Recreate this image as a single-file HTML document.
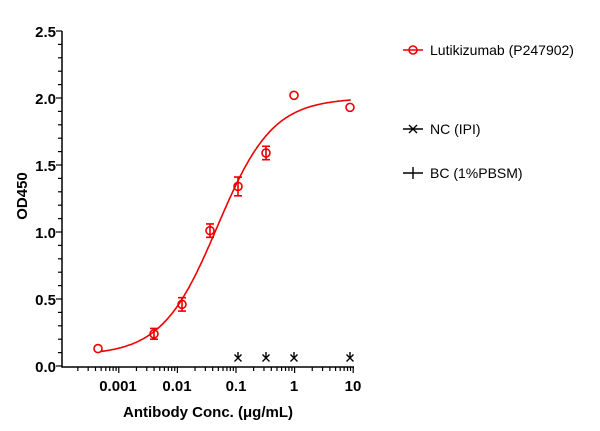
<!DOCTYPE html><html><head><style>body{margin:0;background:#fff}svg{display:block;font-family:"Liberation Sans",Arial,sans-serif}</style></head><body>
<svg id="s" width="600" height="431" viewBox="0 0 600 431">
<g stroke="#000" stroke-width="1.5" fill="none">
<path d="M62 31V367H354"/>
</g>
<g id="ticks" stroke="#000" stroke-width="1.2"></g>
<g font-weight="bold" font-size="15" text-anchor="end">
<text x="56" y="372">0.0</text><text x="56" y="305">0.5</text><text x="56" y="238">1.0</text><text x="56" y="171">1.5</text><text x="56" y="104">2.0</text><text x="56" y="37">2.5</text>
</g>
<g font-weight="bold" font-size="15" text-anchor="middle">
<text x="118" y="391">0.001</text><text x="177" y="391">0.01</text><text x="236" y="391">0.1</text><text x="294" y="391">1</text><text x="353" y="391">10</text>
<text x="208" y="417">Antibody Conc. (μg/mL)</text>
<text transform="translate(27 196) rotate(-90)">OD450</text>
</g>
<path id="curve" fill="none" stroke="#e00" stroke-width="1.6"/>
<g id="pts" stroke="#e00" stroke-width="1.6" fill="none"></g>
<g id="nc" stroke="#000" stroke-width="1.4"></g>
<g font-size="14">
<line x1="403" y1="50" x2="423" y2="50" stroke="#e00" stroke-width="1.5"/><circle cx="413" cy="50" r="4" fill="none" stroke="#e00" stroke-width="1.6"/>
<text x="430" y="55">Lutikizumab (P247902)</text>
<line x1="403" y1="129" x2="423" y2="129" stroke="#000" stroke-width="1.4"/><path d="M409 125l8 8M417 125l-8 8" stroke="#000" stroke-width="1.4"/>
<text x="430" y="134">NC (IPI)</text>
<line x1="403" y1="173" x2="423" y2="173" stroke="#000" stroke-width="1.4"/><line x1="413" y1="167" x2="413" y2="179" stroke="#000" stroke-width="1.4"/>
<text x="430" y="178">BC (1%PBSM)</text>
</g>
</svg>
<script>
var ns="http://www.w3.org/2000/svg";
function X(c){return 236+58.6*Math.log10(c/0.1)}
function Y(v){return 366-v*134}
function el(p,t,a){var e=document.createElementNS(ns,t);for(var k in a)e.setAttribute(k,a[k]);document.getElementById(p).appendChild(e);return e}
for(var i=0;i<=25;i++){var y=366-i*13.4;el("ticks","line",{x1:i%5?58:56,x2:62,y1:y,y2:y});}
for(var d=-4;d<=1;d++){for(var m=1;m<10;m++){var c=Math.pow(10,d)*m;var x=X(c);if(x<63||x>354)continue;el("ticks","line",{x1:x,x2:x,y1:367,y2:m==1?373:371});}}
var p="";for(var lx=Math.log10(0.0005);lx<=Math.log10(9.2);lx+=0.02){var c=Math.pow(10,lx);var v=0.08+(1.92)/(1+Math.pow(0.048/c,0.92));p+=(p?"L":"M")+X(c).toFixed(1)+" "+Y(v).toFixed(1);}
document.getElementById("curve").setAttribute("d",p);
var pts=[[98,0.13,0],[154,0.24,0.04],[182,0.46,0.05],[210,1.01,0.05],[238,1.34,0.07],[266,1.59,0.05],[294,2.02,0],[350,1.93,0]];
pts.forEach(function(q){var y=Y(q[1]);if(q[2]){var e=q[2]*134;el("pts","path",{d:"M"+q[0]+" "+(y-e)+"V"+(y+e)+"M"+(q[0]-4)+" "+(y-e)+"h8M"+(q[0]-4)+" "+(y+e)+"h8"});}el("pts","circle",{cx:q[0],cy:y,r:4});});
[238,266,294,350].forEach(function(x){var y=Y(0.06);el("nc","path",{d:"M"+(x-3.5)+" "+(y-3.5)+"l7 7M"+(x+3.5)+" "+(y-3.5)+"l-7 7M"+x+" "+(y-6)+"v5"});});
</script>
</body></html>
